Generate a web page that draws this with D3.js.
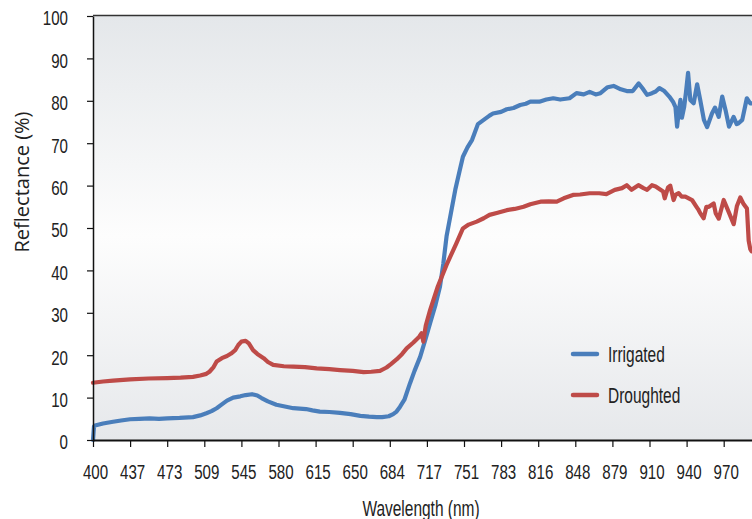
<!DOCTYPE html>
<html>
<head>
<meta charset="utf-8">
<script src="https://cdn.jsdelivr.net/npm/d3@7"></script>
<style>
  body { margin: 0; background: #fff; }
  svg text { font-family: "Liberation Sans", Arial, sans-serif; fill: #222; }
</style>
</head>
<body>
<div id="chart"></div>
<script>
// tick labels on the wavelength axis (evenly spaced on screen)
var wavelengthTicks = [400, 437, 473, 509, 545, 580, 615, 650, 684, 717, 751, 783, 816, 848, 879, 910, 940, 970, 1000];
var reflectanceTicks = [0, 10, 20, 30, 40, 50, 60, 70, 80, 90, 100];

var seriesNames = ["Irrigated", "Droughted"];

// [wavelength nm, reflectance %]
var irrigated = [
  [400,0],[401,3.2],[402,3.4],[410,3.9],[420,4.3],[428,4.6],[437,4.9],[446,5.0],[456,5.1],[465,5.0],
  [473,5.1],[485,5.2],[498,5.4],[505,5.8],[511,6.3],[516,6.8],[521,7.5],[526,8.4],[531,9.3],[537,10.0],
  [544,10.3],[549,10.6],[555,10.8],[560,10.5],[564,9.9],[570,9.1],[578,8.3],[586,7.9],[594,7.5],[606,7.3],
  [612,7.0],[619,6.7],[628,6.6],[638,6.4],[648,6.1],[657,5.7],[665,5.5],[672,5.4],[677,5.4],[683,5.6],
  [687,6.1],[690,6.7],[693,7.8],[697,9.5],[702,13.4],[706,16.3],[711,19.6],[716,24],[720,27.6],[725,32],
  [729,36.2],[732,41.5],[735,48],[739,53.5],[743,59],[747,63.5],[750,66.8],[754,69],[758,70.8],[763,74.5],
  [768,75.5],[773,76.5],[776,77],[783,77.4],[788,78],[794,78.3],[800,79],[805,79.3],[809,79.8],[817,79.8],
  [823,80.3],[829,80.6],[835,80.3],[843,80.6],[849,81.8],[855,81.5],[860,82.1],[865,81.5],[869,81.8],[875,83.2],
  [880,83.5],[886,82.7],[891,82.3],[896,82.3],[901,84.1],[904,83.0],[908,81.4],[912,81.8],[915,82.2],[918,83.0],
  [922,82.3],[926,81.0],[929,79.8],[931,78.5],[932.3,73.9],[933.5,77],[935,80.2],[936.2,76],[938,78.5],[939.5,82],
  [941.2,86.6],[943,80.2],[945.7,79.4],[948.5,83.9],[951,80.2],[954,75.5],[956.6,73.8],[960.5,77],[963,78.4],[966,76.2],
  [968.8,81],[971.5,77.8],[974.3,73.9],[978,76.2],[980.5,74.5],[982,74.7],[985,75.5],[988.7,80.6],[991.5,79.4],[993,79.4]
];

var droughted = [
  [400,13.5],[410,13.8],[420,14.0],[437,14.3],[455,14.5],[473,14.6],[486,14.7],[498,14.9],[505,15.2],[511,15.6],
  [514,16.1],[518,17.2],[521,18.5],[526,19.3],[531,19.8],[535,20.4],[539,21.2],[542,22.4],[545,23.2],[549,23.4],
  [552,22.8],[556,21.2],[560,20.3],[566,19.3],[570,18.4],[575,17.7],[585,17.4],[594,17.3],[605,17.2],[616,16.9],
  [628,16.7],[638,16.5],[650,16.3],[660,16.0],[667,16.1],[675,16.3],[681,17.1],[685,17.9],[690,19.0],[695,20.3],
  [699,21.6],[705,23.0],[710,24.3],[712.3,25.2],[713.8,23.2],[716,27],[720,30.7],[727,36.2],[735,41.3],[744,46.4],
  [750,49.9],[755,50.8],[762,51.5],[768,52.3],[773,53.1],[780,53.6],[788,54.2],[795,54.5],[803,55],[809,55.6],
  [818,56.2],[825,56.3],[832,56.2],[838,57],[846,57.8],[852,57.9],[860,58.2],[868,58.2],[874,58.0],[881,59],
  [887,59.4],[891,60.1],[895,59],[900.7,60.1],[905,59.4],[908,59],[912,60.1],[915,59.8],[918,59.2],[921,58.6],
  [922.3,57],[925,59.6],[926.8,60],[929.5,56.6],[931,57.8],[933.6,58.2],[936,57.4],[939,57.4],[944.4,56.6],[948,55],
  [949.8,54.2],[951,53.5],[953.8,52.3],[956,55],[958,55],[961.9,55.8],[963.5,53.5],[966,52.2],[969,55.5],[970,56.6],
  [974,53.8],[978.1,50.9],[980.7,55.2],[983.4,57.2],[985.8,55.8],[988.8,54.6],[990.2,47],[991.5,45],[992.6,44.5]
];

var W = 752, H = 519;
var margin = { top: 15, left: 93, bottom: 79 };
var plotBottom = H - margin.bottom;   // 440
var tickStep = 37.1;
var squeeze = 0.72;                    // narrow, tall label text

var svg = d3.select("#chart").append("svg")
    .attr("width", W)
    .attr("height", H);

// x is evenly spaced between listed wavelengths (piecewise linear)
var x = d3.scaleLinear()
    .domain(wavelengthTicks)
    .range(wavelengthTicks.map(function(d, i) { return margin.left + i * tickStep; }));

var y = d3.scaleLinear()
    .domain([0, 100])
    .range([plotBottom, 16]);

// plot background gradient
var defs = svg.append("defs");
var grad = defs.append("linearGradient")
    .attr("id", "bg")
    .attr("x1", 0).attr("y1", 0).attr("x2", 0).attr("y2", 1);
grad.append("stop").attr("offset", "0%").attr("stop-color", "#e4e7ea");
grad.append("stop").attr("offset", "52%").attr("stop-color", "#fdfdfd");
grad.append("stop").attr("offset", "100%").attr("stop-color", "#e6e8eb");

svg.append("rect")
    .attr("x", margin.left)
    .attr("y", margin.top)
    .attr("width", W - margin.left + 20)
    .attr("height", plotBottom - margin.top)
    .attr("fill", "url(#bg)");

// top border
svg.append("line")
    .attr("x1", margin.left).attr("x2", W + 10)
    .attr("y1", margin.top + 0.5).attr("y2", margin.top + 0.5)
    .attr("stroke", "#333").attr("stroke-width", 1.5);

// lines
var line = d3.line()
    .x(function(d) { return x(d[0]); })
    .y(function(d) { return y(d[1]); });

var colors = ["#4a7ebb", "#be4b48"];
var series = [irrigated, droughted];

svg.append("g").selectAll("path")
    .data(series)
    .enter()
    .append("path")
      .attr("d", line)
      .attr("fill", "none")
      .attr("stroke", function(d, i) { return colors[i]; })
      .attr("stroke-width", 4.2)
      .attr("stroke-linejoin", "round")
      .attr("stroke-linecap", "round");

// y axis
var yAxis = svg.append("g")
    .attr("transform", "translate(" + margin.left + ",0)")
    .call(d3.axisLeft(y).tickValues(reflectanceTicks).tickSize(6).tickSizeOuter(0));
yAxis.select(".domain").attr("stroke", "#111").attr("stroke-width", 1.5);
yAxis.selectAll(".tick line").attr("stroke", "#111").attr("stroke-width", 1.2);
yAxis.selectAll("text")
    .style("font-size", "21px")
    .attr("x", -25 / squeeze)
    .attr("dy", "0.42em")
    .attr("transform", "scale(" + squeeze + ",1)");

// x axis (the 1000 tick sits past the right edge)
var xAxis = svg.append("g")
    .attr("transform", "translate(0," + plotBottom + ")")
    .call(d3.axisBottom(x).tickValues(wavelengthTicks.slice(0, -1)).tickSize(7).tickSizeOuter(0).tickPadding(17));
xAxis.select(".domain").attr("stroke", "#111").attr("stroke-width", 2);
xAxis.selectAll(".tick line").attr("stroke", "#111").attr("stroke-width", 1.2);
xAxis.selectAll("text")
    .style("font-size", "21px")
    .attr("x", 2 / squeeze)
    .attr("transform", "scale(" + squeeze + ",1)");

// axis titles
svg.append("text")
    .attr("transform", "translate(29,182) rotate(-90)")
    .attr("text-anchor", "middle")
    .style("font-family", "'Open Sans', sans-serif")
    .style("font-size", "20px")
    .text("Reflectance (%)");

svg.append("text")
    .attr("transform", "translate(421,516) scale(" + squeeze + ",1)")
    .attr("text-anchor", "middle")
    .style("font-size", "21.5px")
    .text("Wavelength (nm)");

// legend
var legend = svg.append("g").attr("transform", "translate(573,354)");
seriesNames.forEach(function(name, i) {
    var g = legend.append("g").attr("transform", "translate(0," + (i * 41) + ")");
    g.append("line")
        .attr("x1", 0).attr("x2", 24)
        .attr("stroke", colors[i])
        .attr("stroke-width", 4.5)
        .attr("stroke-linecap", "round");
    g.append("text")
        .attr("transform", "translate(35,7.5) scale(" + squeeze + ",1)")
        .style("font-size", "21.5px")
        .text(name);
});
</script>
</body>
</html>
